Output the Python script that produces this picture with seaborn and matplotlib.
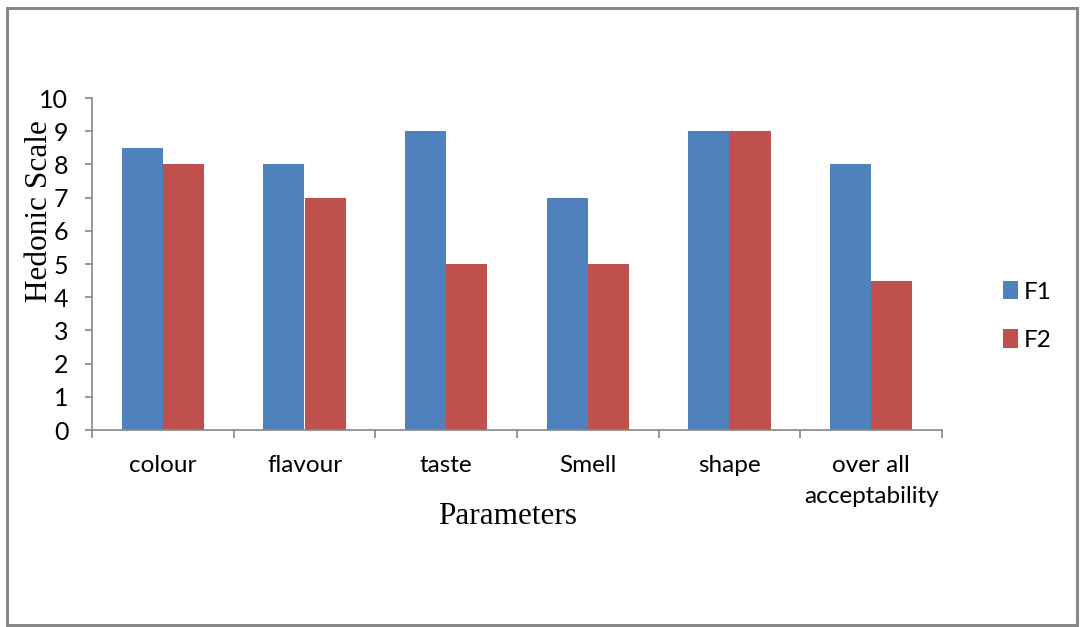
import matplotlib
matplotlib.use("Agg")
import matplotlib.pyplot as plt
import seaborn as sns
import pandas as pd
from matplotlib.patches import Rectangle
from matplotlib.ticker import MultipleLocator, FixedLocator

# Sensory evaluation scores on the hedonic scale
parameters = ["colour", "flavour", "taste", "Smell", "shape", "over all\nacceptability"]
f1_scores = [8.5, 8, 9, 7, 9, 8]
f2_scores = [8, 7, 5, 5, 9, 4.5]
formulations = ["F1", "F2"]
bar_colors = ["#4F81BD", "#C0504D"]

df = pd.DataFrame({
    "Parameter": parameters * 2,
    "Score": f1_scores + f2_scores,
    "Formulation": [formulations[0]] * len(parameters) + [formulations[1]] * len(parameters),
})

sns.set_theme(style="white")
plt.rcParams["font.family"] = ["Lato", "DejaVu Sans"]

fig = plt.figure(figsize=(10.8, 6.27), dpi=100)
ax = fig.add_axes([92 / 1080, 1 - 430 / 627, 850 / 1080, 332 / 627])

sns.barplot(
    data=df, x="Parameter", y="Score", hue="Formulation",
    palette=bar_colors, width=0.58, gap=0, saturation=1,
    edgecolor="none", linewidth=0, ax=ax,
)

axis_gray = "#868686"
ax.set_xlim(-0.5, len(parameters) - 0.5)
ax.set_ylim(0, 10)
ax.yaxis.set_major_locator(MultipleLocator(1))
for side in ("top", "right"):
    ax.spines[side].set_visible(False)
for side in ("left", "bottom"):
    ax.spines[side].set_color(axis_gray)
    ax.spines[side].set_linewidth(1.2)

ax.tick_params(axis="y", direction="out", length=5, width=1.2, color=axis_gray,
               labelsize=18, labelcolor="black", pad=12, left=True)
ax.tick_params(axis="x", which="major", length=0, labelsize=17.5,
               labelcolor="black", pad=18)
ax.xaxis.set_minor_locator(FixedLocator([i - 0.5 for i in range(len(parameters) + 1)]))
ax.tick_params(axis="x", which="minor", direction="out", length=6, width=1.2,
               color=axis_gray, bottom=True)
for lbl in ax.get_xticklabels():
    lbl.set_linespacing(1.6)

serif = ["Liberation Serif", "DejaVu Serif"]
ax.set_ylabel("Hedonic Scale", fontsize=22.5, family=serif, color="black")
ax.yaxis.set_label_coords(-0.045, 0.66)
ax.set_xlabel("Parameters", fontsize=22.5, family=serif, color="black")
ax.xaxis.set_label_coords(0.489, -0.218)

leg = ax.legend(
    loc="center left", bbox_to_anchor=(1003 / 1080, (627 - 316) / 627),
    bbox_transform=fig.transFigure, frameon=False, fontsize=17.5,
    handlelength=0.62, handleheight=0.8, handletextpad=0.25,
    labelspacing=1.1, borderpad=0, borderaxespad=0,
)
for t in leg.get_texts():
    t.set_color("black")

# Chart-area frame
fig.patches.append(Rectangle((7 / 1080, 2 / 627), 1070 / 1080, 617.5 / 627,
                             transform=fig.transFigure, fill=False,
                             edgecolor="#888888", linewidth=2.2))

fig.savefig("out.png", dpi=100)
